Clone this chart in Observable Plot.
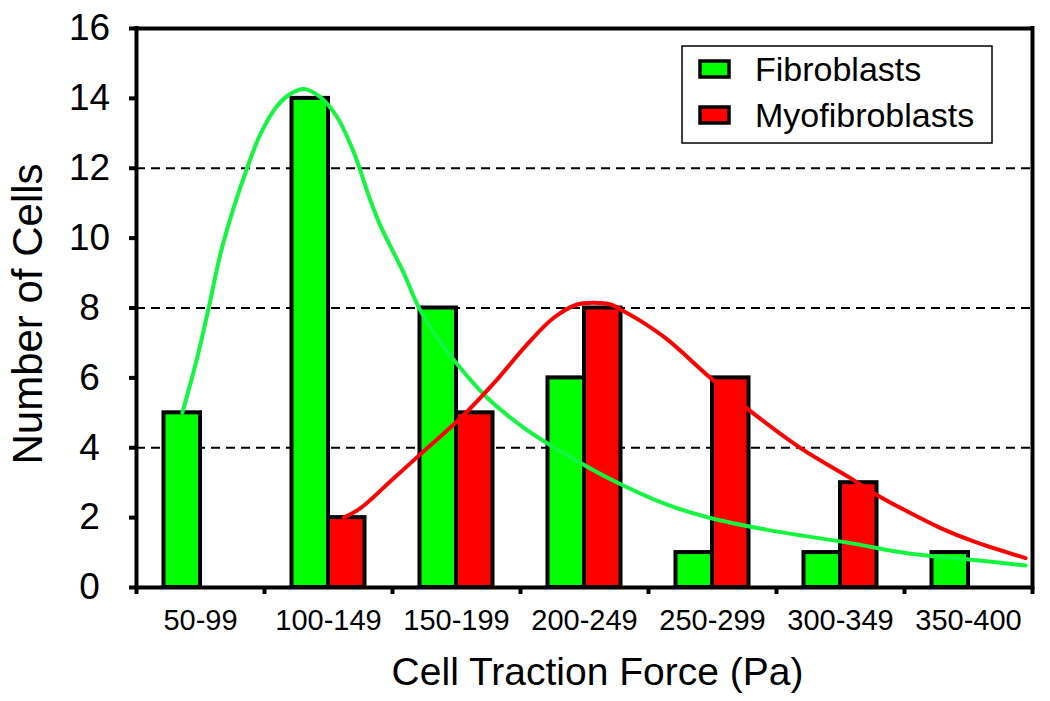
<!DOCTYPE html>
<html>
<head>
<meta charset="utf-8">
<script src="https://cdn.jsdelivr.net/npm/d3@7"></script>
<script src="https://cdn.jsdelivr.net/npm/@observablehq/plot@0.6"></script>
<style>
  html, body { margin: 0; padding: 0; background: white; }
  #chart { width: 1050px; height: 701px; }
</style>
</head>
<body>
<div id="chart"></div>
<script>
// ---- Data ----
const binLabels = ["50-99", "100-149", "150-199", "200-249", "250-299", "300-349", "350-400"];
const binLow  = [50, 100, 150, 200, 250, 300, 350];
const binHigh = [100, 150, 200, 250, 300, 350, 400];
const fibroblasts    = [5, 14, 8, 6, 1, 1, 1];
const myofibroblasts = [0, 2, 5, 8, 6, 3, 0];

const seriesNames  = ["Fibroblasts", "Myofibroblasts"];
const seriesColors = ["#00ff00", "#ff0000"];

// fitted curves (Pa, number of cells)
const fibroCurveX = [67.9, 73.7, 78.2, 82.8, 88.0, 93.2, 98.4, 105.0, 110.2, 115.4, 121.9, 128.4, 134.9, 141.4, 145.3, 154.4, 160.3, 167.5, 175.3, 187.0, 201.3, 215.6, 235.2, 257.3, 274.2, 296.4, 328.9, 351.0, 377.0, 397.3];
const fibroCurveY = [5.0, 6.57, 8.0, 9.55, 10.88, 12.0, 12.98, 13.79, 14.13, 14.27, 14.03, 13.46, 12.45, 11.07, 10.35, 9.0, 8.01, 7.15, 6.39, 5.43, 4.57, 3.9, 3.1, 2.37, 1.99, 1.65, 1.27, 0.98, 0.79, 0.63];
const myoCurveX = [131.0, 137.5, 150.5, 163.6, 176.6, 189.6, 202.6, 213.0, 222.1, 228.6, 235.2, 239.1, 246.9, 257.3, 274.2, 289.8, 309.4, 328.9, 338.0, 351.0, 364.1, 377.0, 397.3];
const myoCurveY = [2.0, 2.27, 3.13, 3.99, 4.85, 5.85, 6.96, 7.72, 8.1, 8.15, 8.1, 7.96, 7.63, 7.1, 6.0, 5.05, 3.99, 3.13, 2.7, 2.18, 1.7, 1.32, 0.84];

const yTicks = [0, 2, 4, 6, 8, 10, 12, 14, 16];
const gridValues = [4, 8, 12];
const xDomain = [50, 400];
const yDomain = [0, 16];
const xTitle = "Cell Traction Force (Pa)";
const yTitle = "Number of Cells";

// ---- Tables ----
const fibroBars = binLabels.map((b, i) => ({bin: b, lo: binLow[i], hi: binHigh[i], value: fibroblasts[i]})).filter(d => d.value > 0);
const myoBars = binLabels.map((b, i) => ({bin: b, lo: binLow[i], hi: binHigh[i], value: myofibroblasts[i]})).filter(d => d.value > 0);
const fibroCurve = fibroCurveX.map((x, i) => ({x, y: fibroCurveY[i]}));
const myoCurve = myoCurveX.map((x, i) => ({x, y: myoCurveY[i]}));
const binCenters = binLow.map((lo, i) => (lo + binHigh[i]) / 2);
const labelByCenter = new Map(binCenters.map((c, i) => [c, binLabels[i]]));
const binEdges = Array.from(new Set([...binLow, ...binHigh])).sort((a, b) => a - b);

const FONT = "'Liberation Sans', Arial, Helvetica, sans-serif";

const chart = Plot.plot({
  width: 1050,
  height: 701,
  marginLeft: 136,
  marginRight: 18,
  marginTop: 28,
  marginBottom: 114,
  style: {fontFamily: FONT, background: "white", color: "black"},
  x: {domain: xDomain},
  y: {domain: yDomain},
  marks: [
    Plot.ruleY(gridValues, {stroke: "black", strokeWidth: 2, strokeDasharray: "9,6"}),
    Plot.rectY(fibroBars, {x1: "lo", x2: "hi", y: "value", fill: seriesColors[0], stroke: "black", strokeWidth: 4, insetLeft: 27.5, insetRight: 64}),
    Plot.rectY(myoBars, {x1: "lo", x2: "hi", y: "value", fill: seriesColors[1], stroke: "black", strokeWidth: 4, insetLeft: 64, insetRight: 27.5}),
    Plot.line(fibroCurve, {x: "x", y: "y", stroke: "#14f540", strokeWidth: 4, curve: "catmull-rom"}),
    Plot.line(myoCurve, {x: "x", y: "y", stroke: "#ff0000", strokeWidth: 4, curve: "catmull-rom"}),
    Plot.ruleY(yDomain, {stroke: "black", strokeWidth: 4, strokeLinecap: "square"}),
    Plot.ruleX(xDomain, {stroke: "black", strokeWidth: 4, strokeLinecap: "square"}),
    Plot.axisY({ticks: yTicks, tickSize: 7, tickPadding: 40, textAnchor: "middle", fontSize: 37, strokeWidth: 4, label: null, tickFormat: d => String(d)}),
    Plot.axisX({ticks: binEdges, tickSize: 7, strokeWidth: 4, tickFormat: () => "", label: null}),
    Plot.axisX({ticks: binCenters, tickSize: 0, tickPadding: 22, fontSize: 29, label: null, tickFormat: d => labelByCenter.get(d)}),
    Plot.text([yTitle], {text: d => d, frameAnchor: "left", dx: -108, dy: 6, rotate: -90, fontSize: 42, textAnchor: "middle", lineAnchor: "middle", fill: "black"}),
    Plot.text([xTitle], {text: d => d, frameAnchor: "bottom", dx: 13, dy: 85, fontSize: 39, textAnchor: "middle", lineAnchor: "middle", fill: "black"})
  ]
});

// ---- Legend (inside plot area, top right) ----
const svg = d3.select(chart);
const lg = svg.append("g").attr("font-family", FONT).attr("text-anchor", "start");
lg.append("rect").attr("x", 682).attr("y", 46).attr("width", 310).attr("height", 97)
  .attr("fill", "white").attr("stroke", "black").attr("stroke-width", 1.5);
const rowY = [69, 115];
seriesNames.forEach((name, i) => {
  lg.append("rect").attr("x", 700).attr("y", rowY[i] - 8).attr("width", 29).attr("height", 16)
    .attr("fill", seriesColors[i]).attr("stroke", "black").attr("stroke-width", 3.5);
  lg.append("text").attr("x", 755).attr("y", rowY[i] + 12).attr("font-size", 34)
    .attr("text-anchor", "start").attr("fill", "black").text(name);
});

document.getElementById("chart").appendChild(chart);
</script>
</body>
</html>
